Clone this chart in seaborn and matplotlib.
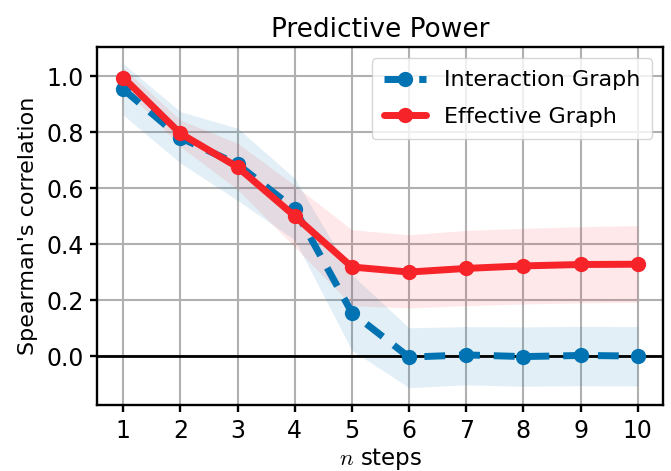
import matplotlib
matplotlib.use("Agg")
import matplotlib.pyplot as plt
import seaborn as sns
import numpy as np
import pandas as pd

steps = [1, 2, 3, 4, 5, 6, 7, 8, 9, 10]
interaction_mean = [0.953, 0.780, 0.685, 0.525, 0.155, -0.004, 0.004, -0.002, 0.002, 0.000]
interaction_low = [0.861, 0.689, 0.556, 0.415, 0.020, -0.113, -0.103, -0.108, -0.106, -0.107]
interaction_high = [1.045, 0.873, 0.814, 0.635, 0.290, 0.101, 0.105, 0.104, 0.106, 0.105]
effective_mean = [0.995, 0.795, 0.675, 0.500, 0.318, 0.300, 0.313, 0.322, 0.327, 0.328]
effective_low = [0.962, 0.748, 0.595, 0.390, 0.180, 0.172, 0.180, 0.186, 0.190, 0.192]
effective_high = [1.030, 0.843, 0.760, 0.610, 0.451, 0.433, 0.449, 0.456, 0.462, 0.466]

blue = "#0173b2"
red = "#f62329"

sns.set_style("ticks")
plt.rcParams["font.family"] = ["DejaVu Sans"]
plt.rcParams["mathtext.fontset"] = "cm"
plt.rcParams["text.color"] = "black"
plt.rcParams["axes.labelcolor"] = "black"

fig = plt.figure(figsize=(6.71, 4.71), dpi=100)
ax = fig.add_axes([0.1453, 0.1401, 0.9888 - 0.1453, 0.9002 - 0.1401])

df = pd.DataFrame({
    "step": steps * 2,
    "value": interaction_mean + effective_mean,
    "series": ["Interaction Graph"] * 10 + ["Effective Graph"] * 10,
})

ax.fill_between(steps, interaction_low, interaction_high, color=blue, alpha=0.11, linewidth=0, zorder=1)
ax.fill_between(steps, effective_low, effective_high, color=red, alpha=0.10, linewidth=0, zorder=1)

ax.axhline(0, color="black", linewidth=2.0, zorder=2)

sns.lineplot(data=df[df.series == "Interaction Graph"], x="step", y="value", ax=ax,
             color=blue, linewidth=5, marker="o", markersize=11, markeredgewidth=0,
             dashes=False, label="Interaction Graph", zorder=3)
ax.lines[-1].set_dashes((3.0, 2.0))
sns.lineplot(data=df[df.series == "Effective Graph"], x="step", y="value", ax=ax,
             color=red, linewidth=5, marker="o", markersize=11, markeredgewidth=0,
             label="Effective Graph", zorder=4)

ax.set_xlim(0.55, 10.45)
ax.set_ylim(-0.175, 1.104)
ax.set_xticks(steps)
ax.set_yticks([0.0, 0.2, 0.4, 0.6, 0.8, 1.0])
ax.set_yticklabels(["0.0", "0.2", "0.4", "0.6", "0.8", "1.0"])

ax.grid(True, color="#b0b0b0", linewidth=1.5, zorder=0)
ax.set_axisbelow(True)
for s in ax.spines.values():
    s.set_color("black")
    s.set_linewidth(1.7)
ax.tick_params(axis="both", labelsize=17, width=1.7, length=5, color="black", labelcolor="black", pad=5)

ax.set_xlabel("$n$ steps", fontsize=16.5, labelpad=2, color="black")
ax.set_ylabel("Spearman's correlation", fontsize=16, labelpad=6, color="black")
ax.set_title("Predictive Power", fontsize=19, pad=7, color="black")

h, l = ax.get_legend_handles_labels()
leg = ax.legend(h, l, loc="upper right", fontsize=16, frameon=True, fancybox=True,
                framealpha=0.8, edgecolor="#cccccc", handlelength=1.9,
                labelspacing=0.75, borderpad=0.55, handletextpad=0.8)
for t in leg.get_texts():
    t.set_color("black")

fig.savefig("out.png", dpi=100)
